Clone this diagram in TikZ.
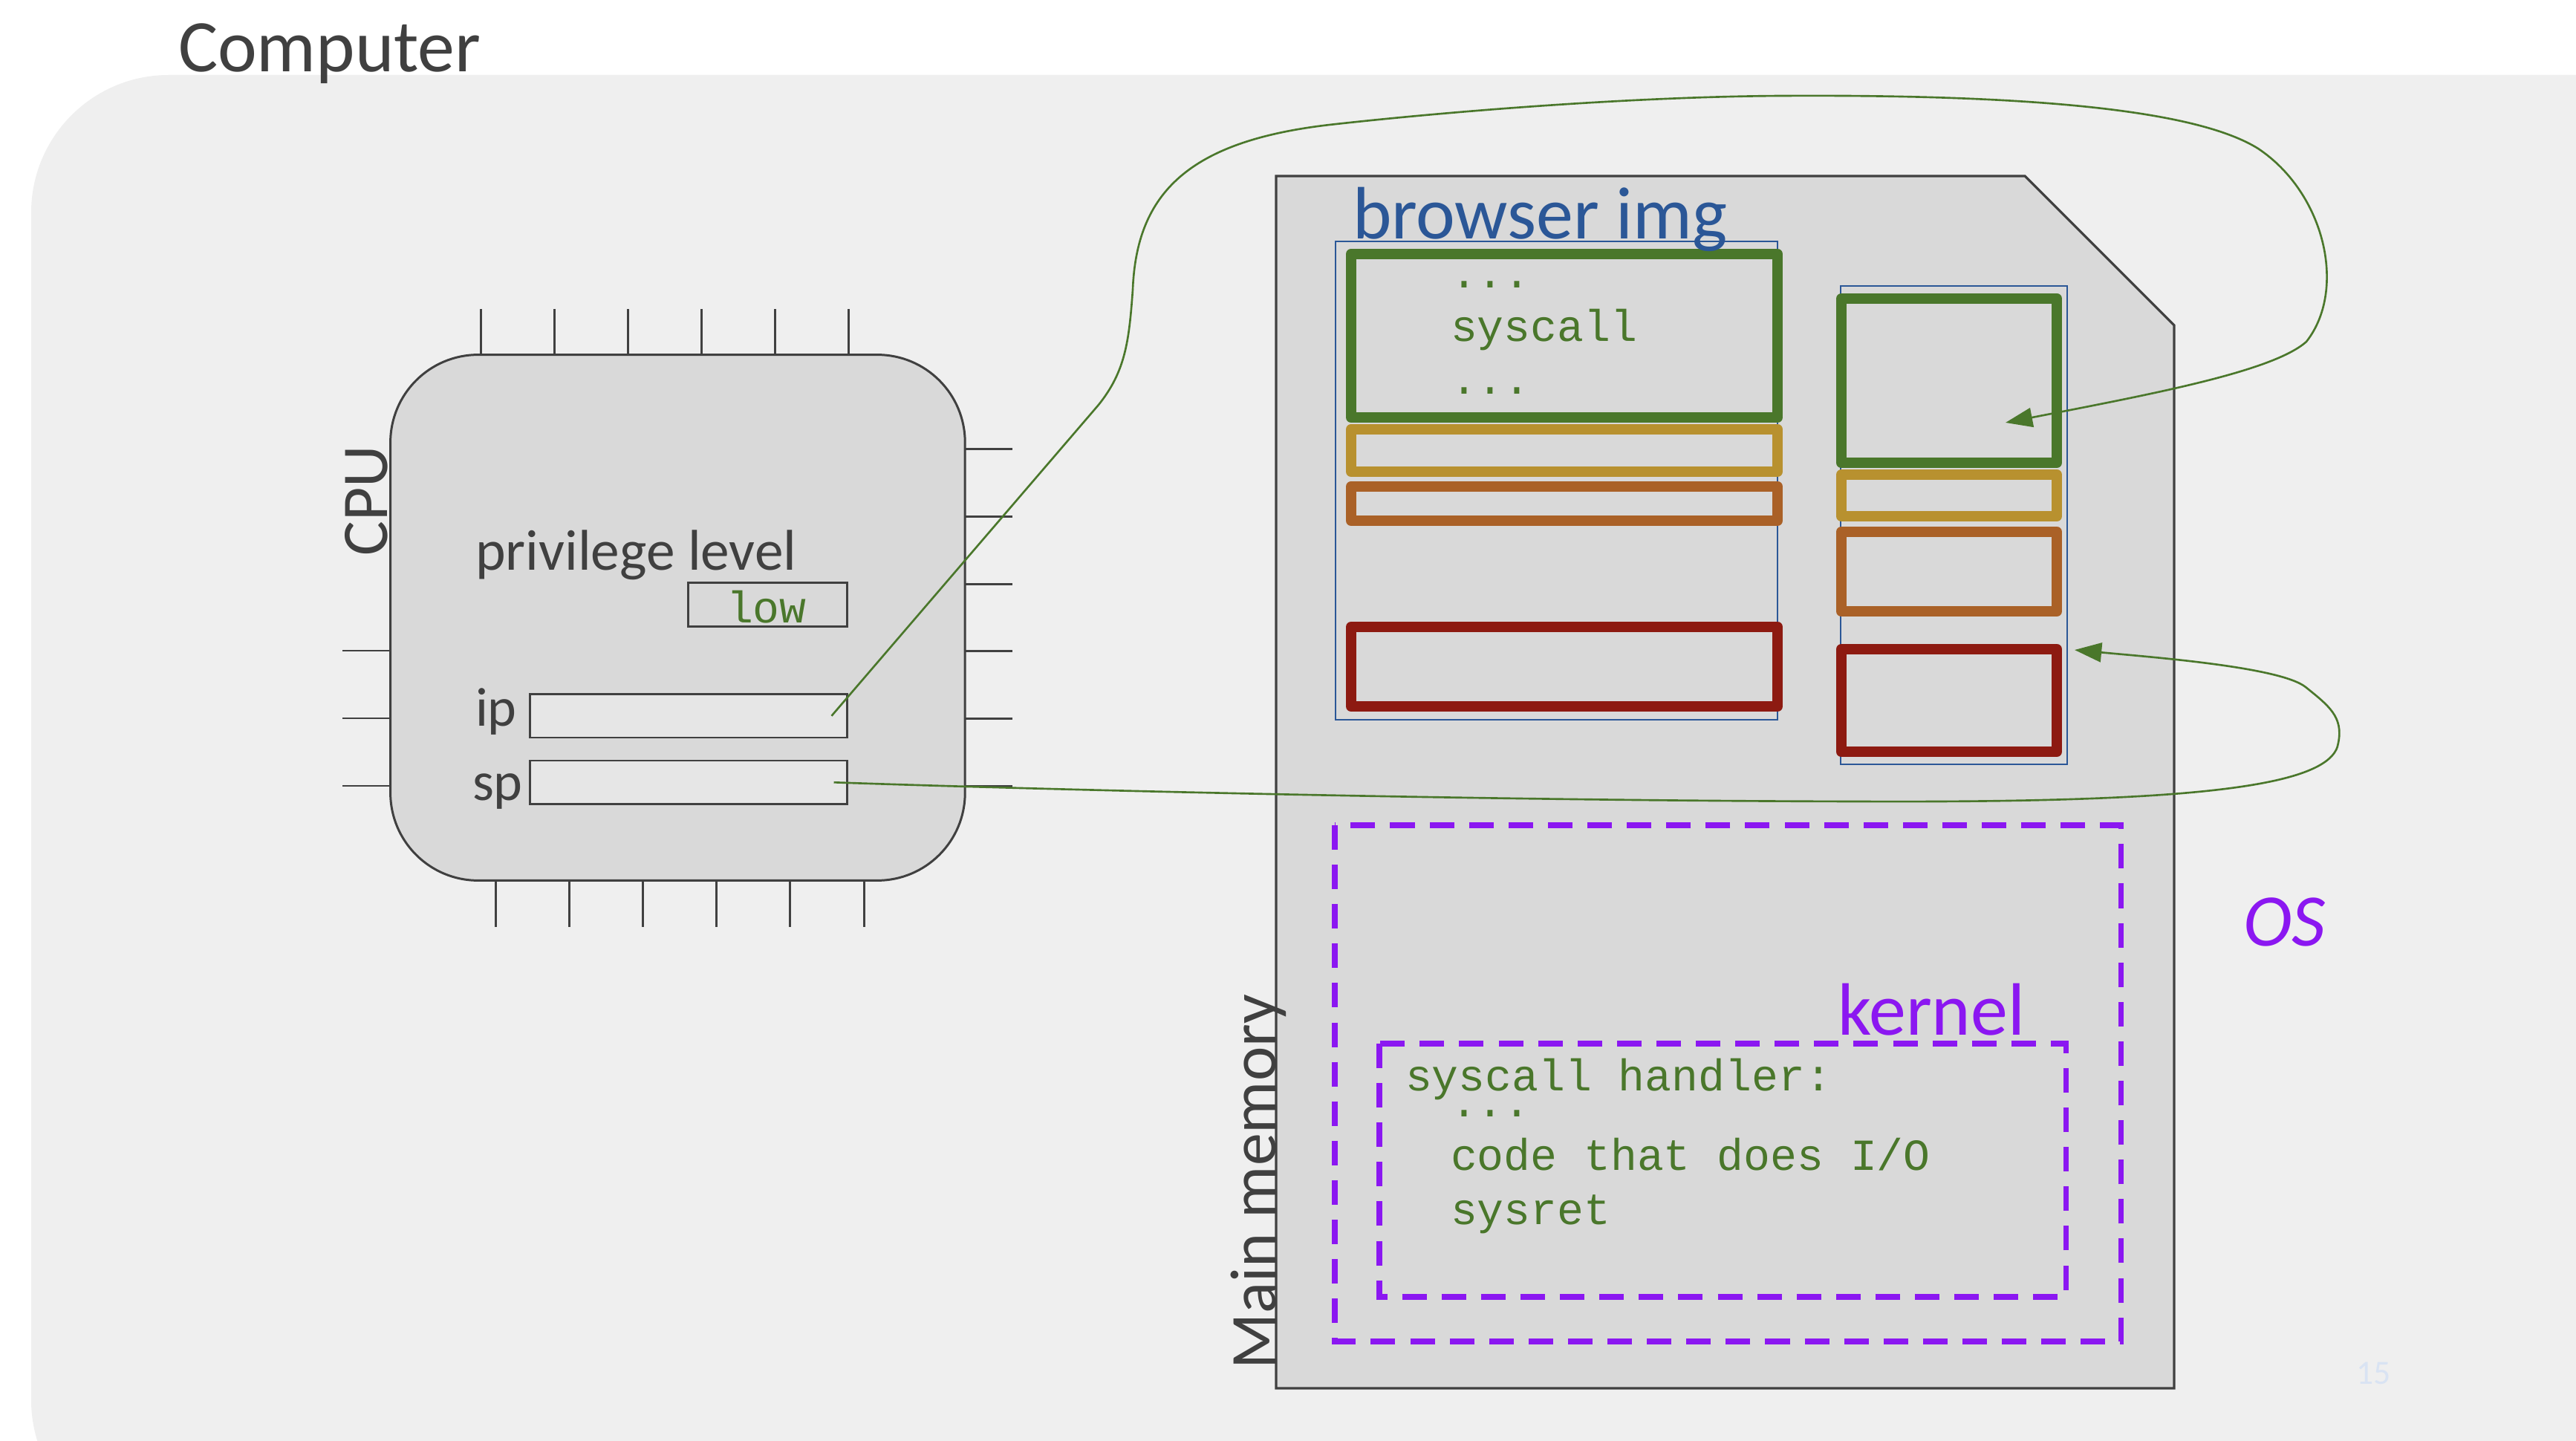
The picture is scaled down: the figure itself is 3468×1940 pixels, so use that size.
\documentclass[tikz,border=0pt]{standalone}
\usepackage{fontspec}
\setmainfont{Carlito}
\newfontfamily\codefont{Liberation Mono}
\usepackage{tikz}
\usetikzlibrary{positioning, calc, arrows.meta}

\definecolor{bggray}{HTML}{EFEFEF}
\definecolor{chipgray}{HTML}{D9D9D9}
\definecolor{reggray}{HTML}{E6E6E6}
\definecolor{ink}{HTML}{404040}
\definecolor{imgblue}{HTML}{2B5797}
\definecolor{codegreen}{HTML}{4A772B}
\definecolor{segyellow}{HTML}{B8912F}
\definecolor{segorange}{HTML}{AA6127}
\definecolor{segred}{HTML}{8D1A11}
\definecolor{ospurple}{HTML}{8B17F1}
\definecolor{pagenum}{HTML}{D9E3F3}

\newcommand{\titlesize}{\fontsize{28.4pt}{34pt}\selectfont}
\newcommand{\sidesize}{\fontsize{25pt}{30pt}\selectfont}
\newcommand{\labsize}{\fontsize{22pt}{26pt}\selectfont}
\newcommand{\regsize}{\fontsize{21pt}{25pt}\selectfont}
\newcommand{\codesize}{\fontsize{17pt}{20pt}\selectfont}
\newcommand{\numsize}{\fontsize{13pt}{15pt}\selectfont}

\begin{document}
\begin{tikzpicture}[x=0.01cm, y=-0.01cm,
    chip/.style={fill=chipgray, draw=ink, line width=0.85pt},
    pin/.style={draw=ink, line width=0.85pt},
    reg/.style={fill=reggray, draw=ink, line width=0.8pt, inner sep=0, outer sep=0},
    imgbox/.style={draw=imgblue, line width=0.7pt},
    seg/.style={line width=4pt, line join=round},
    osbox/.style={draw=ospurple, line width=2pt, dash pattern=on 9.4pt off 5.7pt},
    flow/.style={draw=codegreen, line width=0.75pt, -{Triangle[length=10.3pt, width=7.4pt]}},
    txt/.style={inner sep=0, outer sep=0, anchor=base west}]

    % Page and slide background
    \useasboundingbox (0,0) rectangle (3468,1940);
    \fill[white] (0,0) rectangle (3468,1940);
    \begin{scope}
        \clip (0,0) rectangle (3468,1940);
        \fill[bggray, rounded corners=1.85cm] (42,101) rectangle (3800,2070);
    \end{scope}
    \node[txt, text=ink, font=\titlesize] (computer) at (240,97) {Computer};

    % Main memory with cut corner
    \draw[chip, line width=0.9pt] (1718,237) -- (2726,237) -- (2927,438) -- (2927,1869) -- (1718,1869) -- cycle;
    \node[inner sep=0, anchor=base, rotate=90, text=ink, font=\sidesize] (memlabel) at (1717,1591) {Main memory};

    % Browser image: text section and data sections
    \draw[imgbox] (1798,325) rectangle (2393,969);
    \draw[imgbox] (2478,385) rectangle (2783,1029);
    \draw[seg, codegreen] (1819,342) rectangle (2393,562);
    \draw[seg, segyellow] (1819,578) rectangle (2393,635);
    \draw[seg, segorange] (1819,655) rectangle (2393,701);
    \draw[seg, segred] (1819,844) rectangle (2393,951);
    \draw[seg, codegreen] (2479,402) rectangle (2769,623);
    \draw[seg, segyellow] (2479,639) rectangle (2769,695);
    \draw[seg, segorange] (2479,716) rectangle (2769,823);
    \draw[seg, segred] (2479,874) rectangle (2769,1012);
    \node[txt, text=imgblue, font=\titlesize] (imglabel) at (1821,322) {browser img};
    \node[txt, text=codegreen, font=\codesize\codefont] (dotsa) at (1953,388) {...};
    \node[txt, text=codegreen, font=\codesize\codefont] (callline) at (1953,460) {syscall};
    \node[txt, text=codegreen, font=\codesize\codefont] (dotsb) at (1953,531) {...};

    % OS and kernel regions
    \draw[osbox] (1797,1111) rectangle (2855,1806);
    \draw[osbox] (1857,1405) rectangle (2781,1746);
    \node[txt, text=ospurple, font=\titlesize] (kernlabel) at (2474,1393) {kernel};
    \node[txt, text=ospurple, font=\titlesize\itshape] (oslabel) at (3020,1274) {OS};
    \node[txt, text=codegreen, font=\codesize\codefont] (handler) at (1892,1468) {syscall handler:};
    \node[txt, text=codegreen, font=\codesize\codefont] (dotsc) at (1953,1503) {...};
    \node[txt, text=codegreen, font=\codesize\codefont] (ioline) at (1953,1575) {code that does I/O};
    \node[txt, text=codegreen, font=\codesize\codefont] (retline) at (1953,1648) {sysret};

    % CPU chip and its pins
    \foreach \i in {0,...,5} {
        \draw[pin] ({647+99*\i},416) -- ({647+99*\i},478);
        \draw[pin] ({667+99.2*\i},1185) -- ({667+99.2*\i},1248);
        \draw[pin] (1299,{604.5+90.8*\i}) -- (1363,{604.5+90.8*\i});
    }
    \foreach \i in {0,1,2}
        \draw[pin] (461,{876+91*\i}) -- (526,{876+91*\i});
    \draw[chip, rounded corners=1.18cm] (525.6,477.6) rectangle (1299.2,1185.4);
    \node[inner sep=0, anchor=base, rotate=90, text=ink, font=\sidesize] (cpulabel) at (521,674) {CPU};

    % Registers
    \node[txt, text=ink, font=\labsize] (privlabel) at (640,768) {privilege level};
    \node[reg, fill=chipgray, minimum width=2.136cm, minimum height=0.59cm] (lowreg) at (1033.6,814.2) {};
    \node[txt, text=codegreen, font=\codesize\codefont] (lowval) at (978,839) {low};
    \node[reg, minimum width=4.266cm, minimum height=0.585cm] (ipreg) at (927.1,963.8) {};
    \node[reg, minimum width=4.266cm, minimum height=0.585cm] (spreg) at (927.1,1053.3) {};
    \node[txt, text=ink, font=\regsize] (iplabel) at (640,978) {ip};
    \node[txt, text=ink, font=\regsize] (splabel) at (636,1078) {sp};

    % ip points at the code, sp points at the stack
    \coordinate (codetip) at (2700,569);
    \coordinate (stacktip) at (2793,875);
    \draw[flow] ($(ipreg.east)+(-21,0)$) -- (1479,545)
        .. controls (1515,500) and (1520,460) .. (1525,390)
        .. controls (1530,260) and (1600,190) .. (1790,168)
        .. controls (1950,150) and (2200,130) .. (2400,129)
        .. controls (2750,127) and (2960,150) .. (3040,200)
        .. controls (3130,260) and (3160,390) .. (3105,460)
        .. controls (3060,500) and (2900,530) .. (codetip);
    \draw[flow] ($(spreg.east)+(-18,0)$)
        .. controls (1400,1063) and (2000,1078) .. (2500,1079)
        .. controls (2950,1081) and (3140,1060) .. (3148,1000)
        .. controls (3155,965) and (3135,950) .. (3104,925)
        .. controls (3070,898) and (2900,885) .. (stacktip);

    % Slide number
    \node[txt, text=pagenum, font=\numsize] (slidenum) at (3172,1863) {15};

\end{tikzpicture}
\end{document}
